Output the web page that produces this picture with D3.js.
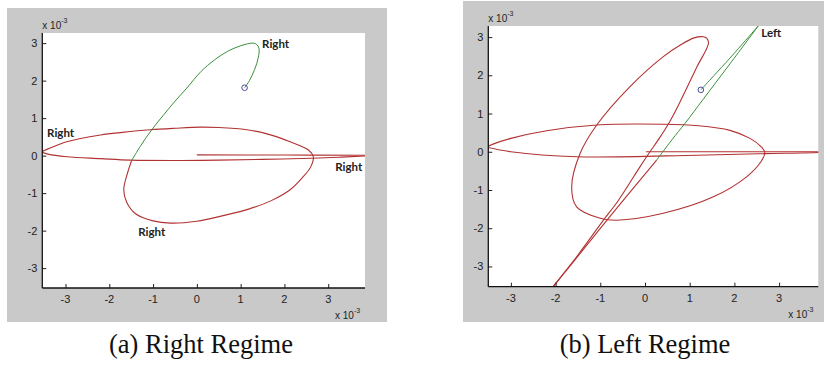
<!DOCTYPE html>
<html><head><meta charset="utf-8">
<script src="https://cdn.jsdelivr.net/npm/d3@7"></script>
<style>body{margin:0;background:#fff}svg{display:block}</style>
</head><body>
<svg id="chart" width="830" height="366"></svg>
<script>
// ---------------- data (units of 1e-3) ----------------
const xTicks = [-3, -2, -1, 0, 1, 2, 3];
const yTicks = [-3, -2, -1, 0, 1, 2, 3];
const captions = ["(a) Right Regime", "(b) Left Regime"];
const exponentLabel = "x 10";
const exponentSup = "-3";

// Panel (a) – Right regime
const aGreenX = [1.09, 1.2, 1.32, 1.4, 1.42, 1.37, 1.29, 1.0, 0.7, 0.4, 0.1, -0.23, -0.5, -0.75, -1.03, -1.28, -1.49];
const aGreenY = [1.81, 2.0, 2.3, 2.6, 2.85, 2.96, 3.0, 2.93, 2.78, 2.55, 2.25, 1.8, 1.45, 1.1, 0.69, 0.27, -0.13];
const aGreenBreaks = [];
const aRedX = [-1.49, -1.58, -1.67, -1.6, -1.4, -1.0, -0.6, 0.0, 0.6, 1.2, 1.7, 2.13, 2.4, 2.6, 2.66, 2.55, 2.13, 1.6, 1.14, 0.5, 0.08, -0.5, -1.07, -1.7, -2.2, -2.97, -3.4, -3.55, -3.4, -2.97, -2.2, -1.52, -0.38, 0.5, 1.5, 2.63, 3.3, 3.84, 4.1, 3.84, 2.0, 0.0];
const aRedY = [-0.13, -0.45, -0.91, -1.25, -1.55, -1.74, -1.8, -1.75, -1.6, -1.42, -1.2, -0.91, -0.6, -0.3, -0.03, 0.15, 0.37, 0.58, 0.69, 0.75, 0.76, 0.73, 0.69, 0.62, 0.55, 0.37, 0.18, 0.1, 0.04, -0.03, -0.08, -0.12, -0.13, -0.12, -0.1, -0.07, -0.04, -0.01, 0.0, 0.01, 0.015, 0.02];
const aRedBreaks = [27, 38];
const aStart = [1.09, 1.81];
const aLabels = ["Right", "Right", "Right", "Right"];
const aLabelX = [1.49, -3.42, 3.16, -1.34];
const aLabelY = [2.87, 0.5, -0.41, -2.14];

// Panel (b) – Left regime
const bGreenX = [1.25, 1.9, 2.54, 1.9, 1.3, 0.9, 0.6, 0.26];
const bGreenY = [1.62, 2.45, 3.3, 2.3, 1.37, 0.75, 0.31, -0.22];
const bGreenBreaks = [2];
const bRedX = [0.26, -0.4, -0.85, -1.45, -2.05, -1.5, -0.95, -0.6, -0.11, 0.1, 0.33, 0.55, 0.74, 0.94, 1.17, 1.42, 1.38, 1.3, 1.1, 0.8, 0.41, -0.34, -1.08, -1.45, -1.64, -1.53, -1.0, -0.63, 0.41, 1.53, 2.28, 2.6, 2.68, 2.6, 2.35, 1.9, 1.2, 0.41, -1.08, -2.2, -3.0, -3.4, -3.55, -3.0, -1.53, 1.16, 2.68, 3.88, 4.1, 3.88, 2.0, 0.02];
const bRedY = [-0.22, -1.15, -1.79, -2.66, -3.52, -2.7, -1.82, -1.28, -0.39, -0.02, 0.37, 0.78, 1.2, 1.68, 2.24, 2.84, 2.97, 3.01, 2.98, 2.8, 2.49, 1.7, 0.7, -0.04, -0.92, -1.44, -1.74, -1.79, -1.61, -1.18, -0.65, -0.25, -0.02, 0.13, 0.35, 0.56, 0.68, 0.72, 0.7, 0.55, 0.35, 0.2, 0.12, 0.0, -0.13, -0.09, -0.05, -0.02, 0.0, 0.0, 0.0, 0.0];
const bRedBreaks = [4, 42, 48];
const bStart = [1.25, 1.62];
const bLabels = ["Left"];
const bLabelX = [2.6];
const bLabelY = [3.0];

// ---------------- drawing ----------------
const svg = d3.select("#chart");
const RED = "#b23232", GREEN = "#3a8f3a", GRAY = "#c9c9c9";

function segments(xs, ys, breaks) {
  const pts = xs.map((v, k) => [v, ys[k]]);
  const cuts = [0, ...breaks, pts.length - 1];
  const out = [];
  for (let k = 0; k < cuts.length - 1; k++) out.push(pts.slice(cuts[k], cuts[k + 1] + 1));
  return out;
}

const panels = [
  {bg:[7,8,380,314], plot:{l:42.3,r:365,t:33,b:288}, xd:[-3.53,3.84], yd:[-3.53,3.27],
   green:segments(aGreenX, aGreenY, aGreenBreaks), red:segments(aRedX, aRedY, aRedBreaks),
   start:aStart, labels:aLabels, lx:aLabelX, ly:aLabelY, cap:captions[0], capX:201},
  {bg:[463,1,361,321], plot:{l:488.3,r:818.3,t:26,b:286.7}, xd:[-3.505,3.877], yd:[-3.53,3.29],
   green:segments(bGreenX, bGreenY, bGreenBreaks), red:segments(bRedX, bRedY, bRedBreaks),
   start:bStart, labels:bLabels, lx:bLabelX, ly:bLabelY, cap:captions[1], capX:645}
];

panels.forEach((p, i) => {
  const g = svg.append("g");
  g.append("rect").attr("x", p.bg[0]).attr("y", p.bg[1]).attr("width", p.bg[2]).attr("height", p.bg[3]).attr("fill", GRAY);
  const P = p.plot;
  g.append("rect").attr("x", P.l).attr("y", P.t).attr("width", P.r - P.l).attr("height", P.b - P.t).attr("fill", "#fff");
  const x = d3.scaleLinear().domain(p.xd).range([P.l, P.r]);
  const y = d3.scaleLinear().domain(p.yd).range([P.b, P.t]);

  const clipId = "clip" + i;
  g.append("clipPath").attr("id", clipId).append("rect")
    .attr("x", P.l).attr("y", P.t).attr("width", P.r - P.l).attr("height", P.b - P.t);

  const line = d3.line().x(d => x(d[0])).y(d => y(d[1])).curve(d3.curveCatmullRom.alpha(0.5));
  const plotG = g.append("g").attr("clip-path", `url(#${clipId})`);
  plotG.selectAll(".red").data(p.red).join("path")
    .attr("d", line).attr("fill", "none").attr("stroke", RED).attr("stroke-width", 1.1).attr("stroke-linejoin", "round");
  plotG.selectAll(".green").data(p.green).join("path")
    .attr("d", line).attr("fill", "none").attr("stroke", GREEN).attr("stroke-width", 1.0);
  plotG.append("circle").attr("cx", x(p.start[0])).attr("cy", y(p.start[1])).attr("r", 2.8)
    .attr("fill", "none").attr("stroke", "#4a4a9a").attr("stroke-width", 1);

  // axes (ticks pointing inward)
  const xAxis = d3.axisTop(x).tickValues(xTicks).tickSize(4).tickFormat("");
  g.append("g").attr("transform", `translate(0,${P.b})`).call(xAxis)
    .call(s => s.select(".domain").remove())
    .selectAll("line").attr("stroke", "#222");
  const yAxis = d3.axisRight(y).tickValues(yTicks).tickSize(4).tickFormat("");
  g.append("g").attr("transform", `translate(${P.l},0)`).call(yAxis)
    .call(s => s.select(".domain").remove())
    .selectAll("line").attr("stroke", "#222");
  g.append("line").attr("x1", P.l).attr("x2", P.r).attr("y1", P.b).attr("y2", P.b).attr("stroke", "#111").attr("stroke-width", 1.3);
  g.append("line").attr("x1", P.l).attr("x2", P.l).attr("y1", P.t).attr("y2", P.b).attr("stroke", "#111").attr("stroke-width", 1.3);

  // tick labels
  g.selectAll(".xl").data(xTicks).join("text")
    .attr("x", d => x(d)).attr("y", P.b + 15).attr("text-anchor", "middle")
    .attr("font-family", "Liberation Sans, Arial, sans-serif").attr("font-size", 11).attr("fill", "#222")
    .text(d => d);
  g.selectAll(".yl").data(yTicks).join("text")
    .attr("x", P.l - 5).attr("y", d => y(d) + 4).attr("text-anchor", "end")
    .attr("font-family", "Liberation Sans, Arial, sans-serif").attr("font-size", 11).attr("fill", "#222")
    .text(d => d);

  // exponent labels
  const expTop = g.append("text").attr("x", P.l).attr("y", P.t - 4)
    .attr("font-family", "Liberation Sans, Arial, sans-serif").attr("font-size", 10).attr("fill", "#222");
  expTop.append("tspan").text(exponentLabel);
  expTop.append("tspan").attr("dy", -6).attr("font-size", 7).text(exponentSup);
  const expBot = g.append("text").attr("x", P.r - 30).attr("y", P.b + 31)
    .attr("font-family", "Liberation Sans, Arial, sans-serif").attr("font-size", 10).attr("fill", "#222");
  expBot.append("tspan").text(exponentLabel);
  expBot.append("tspan").attr("dy", -6).attr("font-size", 7).text(exponentSup);

  // annotations
  g.selectAll(".ann").data(p.labels).join("text")
    .attr("x", (d, k) => x(p.lx[k])).attr("y", (d, k) => y(p.ly[k]))
    .attr("font-family", "Lato, 'Open Sans', sans-serif").attr("font-weight", "bold").attr("font-size", 11.5).attr("fill", "#222")
    .text(d => d);

  // caption
  svg.append("text").attr("x", p.capX).attr("y", 353).attr("text-anchor", "middle")
    .attr("font-family", "'Liberation Serif', 'DejaVu Serif', serif").attr("font-size", 26.5).attr("fill", "#111")
    .text(p.cap);
});
</script>
</body></html>
